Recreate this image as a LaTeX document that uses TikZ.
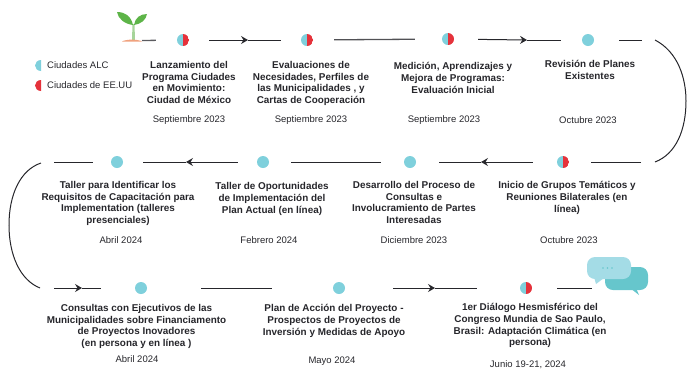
\documentclass[tikz,border=0pt]{standalone}
\usepackage{fontspec}
\setmainfont{Liberation Sans}
\usetikzlibrary{arrows.meta}
\definecolor{alc}{HTML}{7FD0DC}
\definecolor{usa}{HTML}{E5323B}
\definecolor{ink}{HTML}{26262B}
\definecolor{leaf}{HTML}{5DB448}
\definecolor{stem}{HTML}{A6D49A}
\definecolor{soil}{HTML}{F0A27E}
\definecolor{bubA}{HTML}{A4DCE6}
\definecolor{bubB}{HTML}{66C6CC}
\tikzset{
  seg/.style={draw=ink,line width=1pt},
  tipseg/.style={seg,-{Stealth[length=7pt,width=8pt,inset=2.5pt]}},
  curve/.style={draw=ink,line width=1pt},
  dot/.style={circle,minimum size=12pt,inner sep=0pt,fill=alc},
  halfdot/.style={circle,minimum size=12pt,inner sep=0pt,
    path picture={\fill[alc] (path picture bounding box.south west) rectangle (path picture bounding box.north);
      \fill[usa] (path picture bounding box.south) rectangle (path picture bounding box.north east);}},
  title/.style={anchor=north,align=center,text=ink,inner sep=0pt,font=\fontsize{9.9}{11.8}\selectfont\bfseries},
  datelab/.style={anchor=center,text=ink,font=\fontsize{9.5}{10}\selectfont},
  legendlab/.style={anchor=west,text=ink,inner sep=0pt,font=\fontsize{9.5}{10}\selectfont},
}
\begin{document}
\begin{tikzpicture}[x=1pt,y=-1pt]
\useasboundingbox (0,0) rectangle (688,368);
% sprout
\fill[stem] (132,40) -- (132.5,24) -- (134.5,24) -- (135,40) -- cycle;
\fill[leaf] (133,25) .. controls (131,16) and (125,12) .. (117,12) .. controls (118,19) and (125,24) .. (133,25) -- cycle;
\fill[leaf] (134,25) .. controls (135,18) and (140,14) .. (147,14) .. controls (146,20) and (141,24) .. (134,25) -- cycle;
\fill[soil] (122,41.5) .. controls (126,39) and (138,39) .. (142,41.5) -- cycle;
% legend
\fill[alc] (41,60) arc (270:90:6 and 5.5) -- cycle;
\fill[usa] (41,80) arc (270:90:6 and 5.5) -- cycle;
\node[legendlab] (legA) at (47,65) {Ciudades ALC};
\node[legendlab] (legB) at (47,85.5) {Ciudades de EE.UU};
% dots
\coordinate (s) at (142,40.5);
\node[halfdot] (d1) at (183,40) {};
\node[halfdot] (d2) at (307,40) {};
\node[halfdot] (d3) at (448,39) {};
\node[dot] (d4) at (588,40) {};
\node[halfdot] (d5) at (563,162) {};
\node[dot] (d6) at (410,162) {};
\node[dot] (d7) at (263,162) {};
\node[dot] (d8) at (117,162) {};
\node[dot] (d9) at (141,288) {};
\node[dot] (d10) at (339,288) {};
\node[halfdot] (d11) at (526,288) {};
% free ends & arrow points
\coordinate (m1) at (248,40);
\coordinate (m3) at (527,40);
\coordinate (e4) at (642,40);
\coordinate (cr1) at (655,40);
\coordinate (cr2) at (655,162);
\coordinate (e5) at (641,162);
\coordinate (m5) at (481,162);
\coordinate (m7) at (186,162);
\coordinate (e8) at (54,162);
\coordinate (cl1) at (41,163);
\coordinate (cl2) at (40,288);
\coordinate (e9) at (54,288);
\coordinate (m9) at (82,288);
\coordinate (m10) at (435,288);
\coordinate (e11) at (592,288);
% connectors
\draw[seg,line width=1.3pt,shorten >=21pt,draw=ink!75] (s) -- (d1);
\draw[tipseg,shorten <=20pt] (d1) -- (m1);
\draw[seg,shorten >=20pt] (m1) -- (d2);
\draw[seg,line width=1.3pt,draw=ink!80,shorten <=21pt,shorten >=27pt] (d2) -- (d3);
\draw[tipseg,shorten <=24pt] (d3) -- (m3);
\draw[seg,shorten >=21pt] (m3) -- (d4);
\draw[seg,shorten <=25pt] (d4) -- (e4);
\draw[curve] (cr1) .. controls (678,52) and (686,78) .. (686,101) .. controls (686,130) and (676,154) .. (cr2);
\draw[seg,shorten >=22pt] (e5) -- (d5);
\draw[tipseg,shorten <=24pt] (d5) -- (m5);
\draw[seg,shorten >=23pt] (m5) -- (d6);
\draw[seg,shorten <=23pt,shorten >=22pt] (d6) -- (d7);
\draw[tipseg,shorten <=19pt] (d7) -- (m7);
\draw[seg,shorten >=20pt] (m7) -- (d8);
\draw[seg,shorten <=18pt] (d8) -- (e8);
\draw[curve] (cl1) .. controls (20,170) and (9,195) .. (9,225) .. controls (9,255) and (20,280) .. (cl2);
\draw[tipseg] (e9) -- (m9);
\draw[seg,shorten >=34pt] (m9) -- (d9);
\draw[seg,shorten <=54pt,shorten >=61pt] (d9) -- (d10);
\draw[tipseg,shorten <=48pt] (d10) -- (m10);
\draw[seg,shorten >=43pt] (m10) -- (d11);
\draw[seg,shorten <=25pt] (d11) -- (e11);
% bubbles
\fill[bubB,rounded corners=8pt] (605,267) rectangle (648,290);
\fill[bubB] (630,288) -- (639,295) -- (636,288) -- cycle;
\fill[bubA,rounded corners=8pt] (587,257) rectangle (631,279);
\fill[bubA] (594,277) -- (596,284) -- (604,278) -- cycle;
\foreach \px in {603,607.5,612}{\fill[bubB] (\px,268) circle (0.9);}
% titles row 1
\node[title] (t1) at (189,61) {Lanzamiento del\\Programa Ciudades\\en Movimiento:\\Ciudad de México};
\node[datelab] (w1) at (189,120.5) {Septiembre 2023};
\node[title] (t2) at (311,61) {Evaluaciones de\\Necesidades, Perfiles de\\las Municipalidades ,  y\\Cartas de Cooperación};
\node[datelab] (w2) at (311,120.5) {Septiembre 2023};
\node[title] (t3) at (453,62) {Medición, Aprendizajes y\\Mejora de Programas:\\Evaluación Inicial};
\node[datelab] (w3) at (444,120.5) {Septiembre 2023};
\node[title] (t4) at (590,60) {Revisión de Planes\\Existentes};
\node[datelab] (w4) at (588,120.5) {Octubre 2023};
% titles row 2
\node[title] (t5) at (567,181) {Inicio de Grupos Temáticos y\\Reuniones Bilaterales (en\\línea)};
\node[datelab] (w5) at (569,240.5) {Octubre 2023};
\node[title] (t6) at (414,181) {Desarrollo del Proceso de\\Consultas e\\Involucramiento de Partes\\Interesadas};
\node[datelab] (w6) at (414,240.5) {Diciembre 2023};
\node[title] (t7) at (272,182.5) {Taller de Oportunidades\\de Implementación del\\Plan  Actual (en línea)};
\node[datelab] (w7) at (269,240.5) {Febrero 2024};
\node[title] (t8) at (118,181) {Taller para Identificar los\\Requisitos de Capacitación para\\Implementation (talleres\\presenciales)};
\node[datelab] (w8) at (121,240.5) {Abril 2024};
% titles row 3
\node[title] (t9) at (136.5,304) {Consultas con Ejecutivos de las\\Municipalidades sobre Financiamento\\de Proyectos Inovadores\\ (en persona y en línea )};
\node[datelab] (w9) at (137,359.5) {Abril 2024};
\node[title] (t10) at (334,304) {Plan de Acción del Proyecto -\\Prospectos de Proyectos de\\Inversión y Medidas de Apoyo};
\node[datelab] (w10) at (332,361.5) {Mayo 2024};
\node[title] (t11) at (530,303) {1er Diálogo Hesmisférico  del\\Congreso Mundia de Sao Paulo,\\Brasil: Adaptación Climática  (en\\persona)};
\node[datelab] (w11) at (528,364.5) {Junio 19-21, 2024};
\end{tikzpicture}
\end{document}
